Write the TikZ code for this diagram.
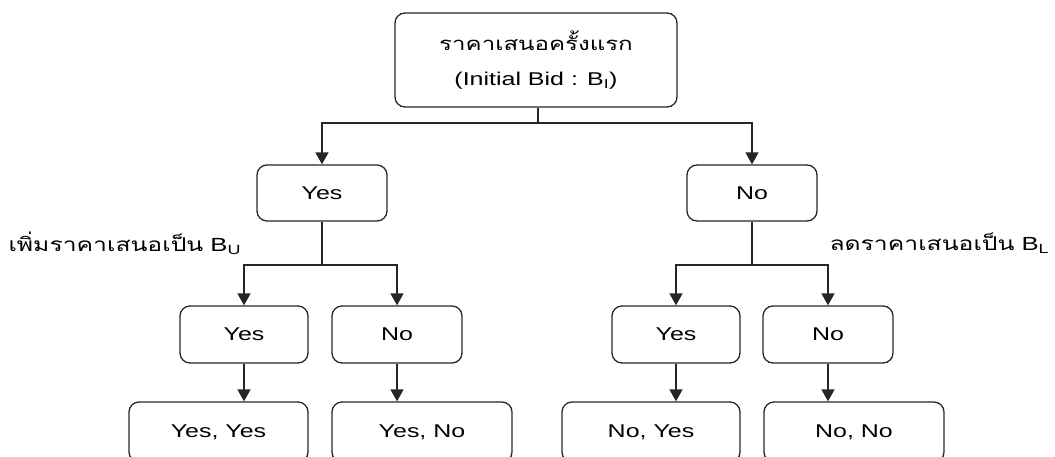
\documentclass[tikz,border=0pt]{standalone}
\usepackage{fontspec}
\setmainfont{Liberation Sans}[FakeStretch=1.35]
\newfontfamily\thaifont[Script=Thai,FakeStretch=1.3]{Loma}
\usetikzlibrary{arrows.meta}

\tikzset{
    box/.style={draw=black!85, line width=1.3pt, rounded corners=10pt, align=center,
        font=\fontsize{18.5}{21}\selectfont},
    arr/.style={draw=black!85, line width=1.4pt, -{Triangle[width=13pt,length=12pt]}},
    link/.style={draw=black!85, line width=1.4pt}
}

\begin{document}
\begin{tikzpicture}[x=1pt, y=-1pt]

    \clip (0,0) rectangle (1055,457);

    %top box:
    \node[box, minimum width=282pt, minimum height=94pt] (bid) at (536,60)
        {{\thaifont ราคาเสนอครั้งแรก}\\[14pt](Initial Bid : B\textsubscript{I})};

    %first answer:
    \node[box, minimum width=130pt, minimum height=56pt] (yes) at (322,193) {Yes};
    \node[box, minimum width=130pt, minimum height=56pt] (no) at (752,193) {No};

    %second answer:
    \node[box, minimum width=128pt, minimum height=57pt] (yesyes) at (244,334.5) {Yes};
    \node[box, minimum width=130pt, minimum height=57pt] (yesno) at (397,334.5) {No};
    \node[box, minimum width=128pt, minimum height=57pt] (noyes) at (676,334.5) {Yes};
    \node[box, minimum width=130pt, minimum height=57pt] (nono) at (828,334.5) {No};

    %outcomes:
    \node[box, minimum width=179pt, minimum height=60pt] (outyy) at (218.5,432) {Yes, Yes};
    \node[box, minimum width=180pt, minimum height=60pt] (outyn) at (422,432) {Yes, No};
    \node[box, minimum width=178pt, minimum height=60pt] (outny) at (651,432) {No, Yes};
    \node[box, minimum width=180pt, minimum height=60pt] (outnn) at (854,432) {No, No};

    %split points:
    \coordinate (s0) at (538,123);
    \coordinate (s1) at (322,265);
    \coordinate (s2) at (752,265);

    %draw links:
    \draw[link] (bid.south -| s0) -- (s0);
    \draw[arr] (s0) -| (yes.north);
    \draw[arr] (s0) -| (no.north);

    \draw[link] (yes.south) -- (s1);
    \draw[arr] (s1) -| (yesyes.north);
    \draw[arr] (s1) -| (yesno.north);
    \draw[link] (no.south) -- (s2);
    \draw[arr] (s2) -| (noyes.north);
    \draw[arr] (s2) -| (nono.north);

    \draw[arr] (yesyes.south) -- (yesyes.south |- outyy.north);
    \draw[arr] (yesno.south) -- (yesno.south |- outyn.north);
    \draw[arr] (noyes.south) -- (noyes.south |- outny.north);
    \draw[arr] (nono.south) -- (nono.south |- outnn.north);

    %draw labels:
    \node[anchor=west, font=\fontsize{19}{21}\selectfont] (up) at (5,243)
        {{\thaifont เพิ่มราคาเสนอเป็น} B\textsubscript{U}};
    \node[anchor=west, font=\fontsize{19}{21}\selectfont] (down) at (826,243)
        {{\thaifont ลดราคาเสนอเป็น} B\textsubscript{L}};

\end{tikzpicture}
\end{document}
